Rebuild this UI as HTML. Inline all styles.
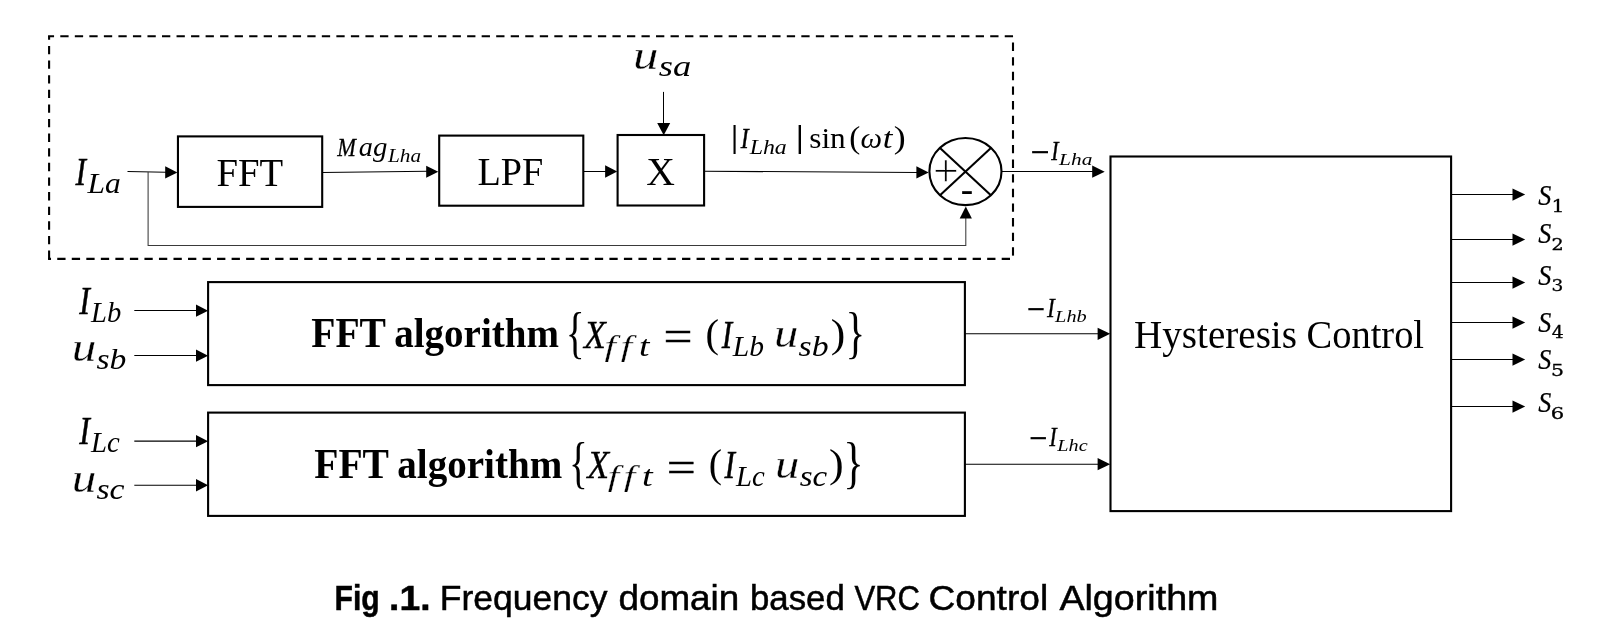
<!DOCTYPE html>
<html lang="en">
<head>
<meta charset="utf-8">
<title>Fig. 1 Frequency domain based VRC Control Algorithm</title>
<style>
html,body{margin:0;padding:0;background:#fff;}
body{width:1616px;height:638px;overflow:hidden;}
svg{display:block;will-change:transform;}
.box{fill:none;stroke:#000;stroke-width:2.1;}
.ln{fill:none;stroke:#000;stroke-width:1.05;}
.fb{fill:none;stroke:#3a3a3a;stroke-width:1.05;}
.ah{fill:#000;stroke:none;}
text{fill:#000;}
</style>
</head>
<body>
<svg width="1616" height="638" viewBox="0 0 1616 638">
<rect x="0" y="0" width="1616" height="638" fill="#fff"/>
<!-- dashed group frame -->
<g fill="none" stroke="#000" stroke-width="2.1">
<line x1="48.05" y1="36.2" x2="1014.05" y2="36.2" stroke-dasharray="8.3 6.23" stroke-dashoffset="2.29"/>
<line x1="1013" y1="37.25" x2="1013" y2="258.9" stroke-dasharray="8.35 6.27" stroke-dashoffset="9.27"/>
<line x1="48.05" y1="258.9" x2="1013" y2="258.9" stroke-dasharray="8.3 6.23" stroke-dashoffset="5.33"/>
<line x1="49.1" y1="36.2" x2="49.1" y2="259.95" stroke-dasharray="8.35 6.27" stroke-dashoffset="4.92"/>
</g>

<!-- top row boxes -->
<rect class="box" x="177.95" y="136.4" width="144.25" height="70.5"/>
<rect class="box" x="439.2" y="135.6" width="144.1" height="70.1"/>
<rect class="box" x="617.6" y="135" width="86.5" height="70.5"/>
<ellipse class="box" cx="965.45" cy="171.55" rx="36.05" ry="33.55"/>
<line class="box" x1="940" y1="147.9" x2="990.9" y2="195.2"/>
<line class="box" x1="990.9" y1="147.9" x2="940" y2="195.2"/>

<!-- big boxes -->
<rect class="box" x="208.1" y="282.1" width="756.8" height="103"/>
<rect class="box" x="208.1" y="412.6" width="756.8" height="103.3"/>
<rect class="box" x="1110.5" y="156.5" width="340.6" height="354.6"/>

<!-- arrows top row -->
<line class="ln" x1="127.5" y1="171.4" x2="166" y2="172.3"/>
<polygon class="ah" points="165.2,166.3 177.4,172.4 165.2,178.4"/>
<polyline class="fb" points="148.1,172 148.1,245.45 965.8,245.45 965.8,218"/>
<polygon class="ah" points="959.7,218.6 965.8,206.4 971.9,218.6"/>
<line class="ln" x1="322" y1="172.4" x2="428" y2="171.3"/>
<polygon class="ah" points="426.2,165.7 438.3,171.75 426.2,177.8"/>
<line class="ln" x1="583.3" y1="171.5" x2="607" y2="171.5"/>
<polygon class="ah" points="605.1,165.3 617.2,171.55 605.1,177.8"/>
<line class="ln" x1="663.5" y1="91.9" x2="663.5" y2="124"/>
<polygon class="ah" points="657.2,123.1 663.7,135.2 670.2,123.1"/>
<line class="ln" x1="704.1" y1="171.3" x2="918" y2="172.4"/>
<polygon class="ah" points="916.4,166.2 928.7,172.4 916.4,178.6"/>
<line class="ln" x1="1001.5" y1="171.4" x2="1093" y2="171.4"/>
<polygon class="ah" points="1092.2,165.6 1104.7,171.7 1092.2,177.8"/>

<!-- arrows rows b, c -->
<line class="ln" x1="134.3" y1="310.5" x2="197" y2="310.5"/>
<polygon class="ah" points="196,304.50 208.1,310.65 196,316.80"/>
<line class="ln" x1="134.3" y1="355.5" x2="197" y2="355.5"/>
<polygon class="ah" points="196,349.50 208.1,355.65 196,361.80"/>
<line class="ln" x1="134.3" y1="441.1" x2="197" y2="441.1"/>
<polygon class="ah" points="196,435.05 208.1,441.20 196,447.35"/>
<line class="ln" x1="134.3" y1="485.15" x2="197" y2="485.15"/>
<polygon class="ah" points="196,479.10 208.1,485.25 196,491.40"/>
<line class="ln" x1="965" y1="333.8" x2="1098.5" y2="333.8"/>
<polygon class="ah" points="1097.6,327.7 1110.2,333.8 1097.6,339.9"/>
<line class="ln" x1="965" y1="464.2" x2="1098.5" y2="464.2"/>
<polygon class="ah" points="1097.6,458.1 1110.2,464.2 1097.6,470.3"/>

<!-- output arrows -->
<line class="ln" x1="1451" y1="194.5" x2="1513.5" y2="194.5"/>
<polygon class="ah" points="1512.5,188.40 1525.2,194.55 1512.5,200.70"/>
<line class="ln" x1="1451" y1="239.5" x2="1513.5" y2="239.5"/>
<polygon class="ah" points="1512.5,233.40 1525.2,239.55 1512.5,245.70"/>
<line class="ln" x1="1451" y1="282.5" x2="1513.5" y2="282.5"/>
<polygon class="ah" points="1512.5,276.40 1525.2,282.55 1512.5,288.70"/>
<line class="ln" x1="1451" y1="322.5" x2="1513.5" y2="322.5"/>
<polygon class="ah" points="1512.5,316.40 1525.2,322.55 1512.5,328.70"/>
<line class="ln" x1="1451" y1="359.5" x2="1513.5" y2="359.5"/>
<polygon class="ah" points="1512.5,353.40 1525.2,359.55 1512.5,365.70"/>
<line class="ln" x1="1451" y1="406.5" x2="1513.5" y2="406.5"/>
<polygon class="ah" points="1512.5,400.40 1525.2,406.55 1512.5,412.70"/>

<!-- text labels -->
<text xml:space="preserve"><tspan x="216.5" y="185.6" font-family='"Liberation Serif",serif' font-size="41" textLength="66.66" lengthAdjust="spacingAndGlyphs">FFT</tspan></text>
<text xml:space="preserve"><tspan x="477.4" y="184.7" font-family='"Liberation Serif",serif' font-size="41" textLength="65.85" lengthAdjust="spacingAndGlyphs">LPF</tspan></text>
<text xml:space="preserve"><tspan x="646.18" y="184.7" font-family='"Liberation Serif",serif' font-size="41" textLength="28.66" lengthAdjust="spacingAndGlyphs">X</tspan></text>
<text xml:space="preserve"><tspan x="1134.04" y="348.1" font-family='"Liberation Serif",serif' font-size="41" textLength="162.93" lengthAdjust="spacingAndGlyphs">Hysteresis</tspan> <tspan x="1306.5" y="348.1" font-family='"Liberation Serif",serif' font-size="41" textLength="117.57" lengthAdjust="spacingAndGlyphs">Control</tspan></text>
<text xml:space="preserve"><tspan x="311.28" y="347.25" font-family='"Liberation Serif",serif' font-size="41.2" font-weight="bold" textLength="74.74" lengthAdjust="spacingAndGlyphs">FFT</tspan> <tspan x="394.28" y="347.25" font-family='"Liberation Serif",serif' font-size="41.2" font-weight="bold" textLength="164.71" lengthAdjust="spacingAndGlyphs">algorithm</tspan> <tspan x="565.82" y="351.9" font-family='"Liberation Serif",serif' font-size="57.88" textLength="18.89" lengthAdjust="spacingAndGlyphs">{</tspan><tspan x="583.97" y="347.6" font-family='"Liberation Serif",serif' font-size="40" font-style="italic" textLength="21.81" lengthAdjust="spacingAndGlyphs" stroke="#000" stroke-width="0.32">X</tspan><tspan x="604.6" y="355.7" font-family='"Liberation Serif",serif' font-size="28.5" font-style="italic" textLength="11.42" lengthAdjust="spacingAndGlyphs" stroke="#fff" stroke-width="0.25">f</tspan><tspan x="620.7" y="355.7" font-family='"Liberation Serif",serif' font-size="28.5" font-style="italic" textLength="11.42" lengthAdjust="spacingAndGlyphs" stroke="#fff" stroke-width="0.25">f</tspan><tspan x="639.02" y="355.5" font-family='"Liberation Serif",serif' font-size="28.5" font-style="italic" textLength="10.47" lengthAdjust="spacingAndGlyphs">t</tspan> <tspan x="663.59" y="350.3" font-family='"Liberation Serif",serif' font-size="43" textLength="29" lengthAdjust="spacingAndGlyphs" stroke="#000" stroke-width="0.4">=</tspan> <tspan x="705.43" y="346.6" font-family='"Liberation Serif",serif' font-size="40.6" textLength="13.5" lengthAdjust="spacingAndGlyphs">(</tspan><tspan x="721.69" y="347.6" font-family='"Liberation Serif",serif' font-size="40" font-style="italic" textLength="10.4" lengthAdjust="spacingAndGlyphs" stroke="#000" stroke-width="0.50">I</tspan><tspan x="732.76" y="355.5" font-family='"Liberation Serif",serif' font-size="28.5" font-style="italic" textLength="31.2" lengthAdjust="spacingAndGlyphs">Lb</tspan> <tspan x="774.01" y="347.4" font-family='"Liberation Serif",serif' font-size="41.3" font-style="italic" textLength="24.41" lengthAdjust="spacingAndGlyphs" stroke="#fff" stroke-width="0.30">u</tspan><tspan x="798.6" y="355.6" font-family='"Liberation Serif",serif' font-size="30" font-style="italic" textLength="30.03" lengthAdjust="spacingAndGlyphs">sb</tspan><tspan x="830.84" y="346.6" font-family='"Liberation Serif",serif' font-size="40.6" textLength="14.54" lengthAdjust="spacingAndGlyphs">)</tspan><tspan x="845.5" y="351.9" font-family='"Liberation Serif",serif' font-size="57.88" textLength="19.66" lengthAdjust="spacingAndGlyphs">}</tspan></text>
<text xml:space="preserve"><tspan x="314.28" y="477.75" font-family='"Liberation Serif",serif' font-size="41.2" font-weight="bold" textLength="74.74" lengthAdjust="spacingAndGlyphs">FFT</tspan> <tspan x="397.28" y="477.75" font-family='"Liberation Serif",serif' font-size="41.2" font-weight="bold" textLength="164.91" lengthAdjust="spacingAndGlyphs">algorithm</tspan> <tspan x="569.05" y="482.4" font-family='"Liberation Serif",serif' font-size="57.88" textLength="18.74" lengthAdjust="spacingAndGlyphs">{</tspan><tspan x="587.27" y="478.1" font-family='"Liberation Serif",serif' font-size="40" font-style="italic" textLength="21.81" lengthAdjust="spacingAndGlyphs" stroke="#000" stroke-width="0.32">X</tspan><tspan x="607.7" y="486.2" font-family='"Liberation Serif",serif' font-size="28.5" font-style="italic" textLength="11.42" lengthAdjust="spacingAndGlyphs" stroke="#fff" stroke-width="0.25">f</tspan><tspan x="623.8" y="486.2" font-family='"Liberation Serif",serif' font-size="28.5" font-style="italic" textLength="11.63" lengthAdjust="spacingAndGlyphs" stroke="#fff" stroke-width="0.25">f</tspan><tspan x="642.1" y="486" font-family='"Liberation Serif",serif' font-size="28.5" font-style="italic" textLength="10.67" lengthAdjust="spacingAndGlyphs">t</tspan> <tspan x="666.79" y="480.8" font-family='"Liberation Serif",serif' font-size="43" textLength="29" lengthAdjust="spacingAndGlyphs" stroke="#000" stroke-width="0.4">=</tspan> <tspan x="708.76" y="477.1" font-family='"Liberation Serif",serif' font-size="40.6" textLength="13.26" lengthAdjust="spacingAndGlyphs">(</tspan><tspan x="724.39" y="478.1" font-family='"Liberation Serif",serif' font-size="40" font-style="italic" textLength="10.49" lengthAdjust="spacingAndGlyphs" stroke="#000" stroke-width="0.50">I</tspan><tspan x="736.05" y="486" font-family='"Liberation Serif",serif' font-size="28.5" font-style="italic" textLength="28.73" lengthAdjust="spacingAndGlyphs">Lc</tspan> <tspan x="775.11" y="477.9" font-family='"Liberation Serif",serif' font-size="41.3" font-style="italic" textLength="24.41" lengthAdjust="spacingAndGlyphs" stroke="#fff" stroke-width="0.30">u</tspan><tspan x="799.7" y="486.1" font-family='"Liberation Serif",serif' font-size="30" font-style="italic" textLength="27.51" lengthAdjust="spacingAndGlyphs">sc</tspan><tspan x="829.12" y="477.1" font-family='"Liberation Serif",serif' font-size="40.6" textLength="14.67" lengthAdjust="spacingAndGlyphs">)</tspan><tspan x="843.17" y="482.4" font-family='"Liberation Serif",serif' font-size="57.88" textLength="20.43" lengthAdjust="spacingAndGlyphs">}</tspan></text>
<text xml:space="preserve"><tspan x="75.49" y="184.9" font-family='"Liberation Serif",serif' font-size="40" font-style="italic" textLength="10.49" lengthAdjust="spacingAndGlyphs" stroke="#000" stroke-width="0.50">I</tspan><tspan x="87.49" y="192.7" font-family='"Liberation Serif",serif' font-size="28.5" font-style="italic" textLength="33.29" lengthAdjust="spacingAndGlyphs">La</tspan></text>
<text xml:space="preserve"><tspan x="337.25" y="156.2" font-family='"Liberation Serif",serif' font-size="26.2" font-style="italic" textLength="18.66" lengthAdjust="spacingAndGlyphs" stroke="#000" stroke-width="0.28">M</tspan><tspan x="358.66" y="156.2" font-family='"Liberation Serif",serif' font-size="28.3" font-style="italic" textLength="14.12" lengthAdjust="spacingAndGlyphs">a</tspan><tspan x="373" y="156.2" font-family='"Liberation Serif",serif' font-size="28.3" font-style="italic" textLength="14.45" lengthAdjust="spacingAndGlyphs">g</tspan><tspan x="388.03" y="161.7" font-family='"Liberation Serif",serif' font-size="18.2" font-style="italic" textLength="33.03" lengthAdjust="spacingAndGlyphs">Lha</tspan></text>
<text xml:space="preserve"><tspan x="632.91" y="68.9" font-family='"Liberation Serif",serif' font-size="41.3" font-style="italic" textLength="25.48" lengthAdjust="spacingAndGlyphs" stroke="#fff" stroke-width="0.30">u</tspan><tspan x="658.8" y="75.9" font-family='"Liberation Serif",serif' font-size="30" font-style="italic" textLength="32.44" lengthAdjust="spacingAndGlyphs">sa</tspan></text>
<text xml:space="preserve"><tspan x="730.3" y="147" font-family='"Liberation Serif",serif' font-size="31.8" textLength="8.65" lengthAdjust="spacingAndGlyphs">|</tspan><tspan x="740.77" y="148.1" font-family='"Liberation Serif",serif' font-size="29.5" font-style="italic" textLength="7.93" lengthAdjust="spacingAndGlyphs" stroke="#000" stroke-width="0.43">I</tspan><tspan x="749.67" y="154" font-family='"Liberation Serif",serif' font-size="20" font-style="italic" textLength="37.07" lengthAdjust="spacingAndGlyphs">Lha</tspan><tspan x="795" y="147" font-family='"Liberation Serif",serif' font-size="31.8" textLength="9.61" lengthAdjust="spacingAndGlyphs">|</tspan> <tspan x="809.22" y="148.2" font-family='"Liberation Serif",serif' font-size="30" textLength="36.48" lengthAdjust="spacingAndGlyphs">sin</tspan><tspan x="849.27" y="147.6" font-family='"Liberation Serif",serif' font-size="31" textLength="11.01" lengthAdjust="spacingAndGlyphs">(</tspan><tspan x="860.44" y="148.2" font-family='"Liberation Serif",serif' font-size="29" font-style="italic" textLength="21.6" lengthAdjust="spacingAndGlyphs">ω</tspan><tspan x="882.71" y="148.2" font-family='"Liberation Serif",serif' font-size="29" font-style="italic" textLength="9.68" lengthAdjust="spacingAndGlyphs">t</tspan><tspan x="893.88" y="147.6" font-family='"Liberation Serif",serif' font-size="31" textLength="11.91" lengthAdjust="spacingAndGlyphs">)</tspan></text>
<text xml:space="preserve"><tspan x="933.06" y="186.1" font-family='"Liberation Serif",serif' font-size="46" textLength="25.75" lengthAdjust="spacingAndGlyphs" stroke="#fff" stroke-width="0.6">+</tspan></text>
<text xml:space="preserve"><tspan x="960.84" y="201.6" font-family='"Liberation Serif",serif' font-size="38.9" textLength="12.41" lengthAdjust="spacingAndGlyphs">-</tspan></text>
<text xml:space="preserve"><tspan x="1030.5" y="166.8" font-family='"Liberation Serif",serif' font-size="44" textLength="19.25" lengthAdjust="spacingAndGlyphs">−</tspan><tspan x="1051.34" y="159.9" font-family='"Liberation Serif",serif' font-size="27.2" font-style="italic" textLength="7.33" lengthAdjust="spacingAndGlyphs" stroke="#000" stroke-width="0.39">I</tspan><tspan x="1059.13" y="164.6" font-family='"Liberation Serif",serif' font-size="17.6" font-style="italic" textLength="33.23" lengthAdjust="spacingAndGlyphs">Lha</tspan></text>
<text xml:space="preserve"><tspan x="1026.75" y="323.6" font-family='"Liberation Serif",serif' font-size="44" textLength="18.65" lengthAdjust="spacingAndGlyphs">−</tspan><tspan x="1046.97" y="316.9" font-family='"Liberation Serif",serif' font-size="27.2" font-style="italic" textLength="7.84" lengthAdjust="spacingAndGlyphs" stroke="#000" stroke-width="0.27">I</tspan><tspan x="1055.12" y="322" font-family='"Liberation Serif",serif' font-size="17.6" font-style="italic" textLength="31.6" lengthAdjust="spacingAndGlyphs">Lhb</tspan></text>
<text xml:space="preserve"><tspan x="1028.95" y="453.4" font-family='"Liberation Serif",serif' font-size="44" textLength="18.65" lengthAdjust="spacingAndGlyphs">−</tspan><tspan x="1049.35" y="446.2" font-family='"Liberation Serif",serif' font-size="27.2" font-style="italic" textLength="7.5" lengthAdjust="spacingAndGlyphs" stroke="#000" stroke-width="0.35">I</tspan><tspan x="1057.32" y="451.3" font-family='"Liberation Serif",serif' font-size="17.6" font-style="italic" textLength="30.31" lengthAdjust="spacingAndGlyphs">Lhc</tspan></text>
<text xml:space="preserve"><tspan x="79.3" y="313.7" font-family='"Liberation Serif",serif' font-size="40" font-style="italic" textLength="10.66" lengthAdjust="spacingAndGlyphs" stroke="#000" stroke-width="0.50">I</tspan><tspan x="91.05" y="321.5" font-family='"Liberation Serif",serif' font-size="28.5" font-style="italic" textLength="30.2" lengthAdjust="spacingAndGlyphs">Lb</tspan></text>
<text xml:space="preserve"><tspan x="71.79" y="360.9" font-family='"Liberation Serif",serif' font-size="41.3" font-style="italic" textLength="24.65" lengthAdjust="spacingAndGlyphs" stroke="#fff" stroke-width="0.30">u</tspan><tspan x="96.4" y="369" font-family='"Liberation Serif",serif' font-size="30" font-style="italic" textLength="29.93" lengthAdjust="spacingAndGlyphs">sb</tspan></text>
<text xml:space="preserve"><tspan x="79.3" y="444" font-family='"Liberation Serif",serif' font-size="40" font-style="italic" textLength="10.66" lengthAdjust="spacingAndGlyphs" stroke="#000" stroke-width="0.50">I</tspan><tspan x="91.05" y="451.8" font-family='"Liberation Serif",serif' font-size="28.5" font-style="italic" textLength="28.73" lengthAdjust="spacingAndGlyphs">Lc</tspan></text>
<text xml:space="preserve"><tspan x="71.79" y="491.5" font-family='"Liberation Serif",serif' font-size="41.3" font-style="italic" textLength="24.65" lengthAdjust="spacingAndGlyphs" stroke="#fff" stroke-width="0.30">u</tspan><tspan x="96.4" y="498.5" font-family='"Liberation Serif",serif' font-size="30" font-style="italic" textLength="28.11" lengthAdjust="spacingAndGlyphs">sc</tspan></text>
<text xml:space="preserve"><tspan x="1538.3" y="205.3" font-family='"Liberation Serif",serif' font-size="29" font-style="italic" textLength="13.01" lengthAdjust="spacingAndGlyphs" stroke="#000" stroke-width="0.22">S</tspan><tspan x="1551.51" y="211.8" font-family='"DejaVu Serif","Liberation Serif",serif' font-size="15.9" textLength="13.03" lengthAdjust="spacingAndGlyphs" stroke="#000" stroke-width="0.3">1</tspan></text>
<text xml:space="preserve"><tspan x="1538.3" y="243" font-family='"Liberation Serif",serif' font-size="29" font-style="italic" textLength="13.01" lengthAdjust="spacingAndGlyphs" stroke="#000" stroke-width="0.22">S</tspan><tspan x="1551.45" y="249.5" font-family='"DejaVu Serif","Liberation Serif",serif' font-size="15.9" textLength="12.22" lengthAdjust="spacingAndGlyphs" stroke="#000" stroke-width="0.3">2</tspan></text>
<text xml:space="preserve"><tspan x="1538.3" y="284.8" font-family='"Liberation Serif",serif' font-size="29" font-style="italic" textLength="13.01" lengthAdjust="spacingAndGlyphs" stroke="#000" stroke-width="0.22">S</tspan><tspan x="1551.49" y="291.3" font-family='"DejaVu Serif","Liberation Serif",serif' font-size="15.9" textLength="11.83" lengthAdjust="spacingAndGlyphs" stroke="#000" stroke-width="0.3">3</tspan></text>
<text xml:space="preserve"><tspan x="1538.3" y="331.8" font-family='"Liberation Serif",serif' font-size="29" font-style="italic" textLength="13.01" lengthAdjust="spacingAndGlyphs" stroke="#000" stroke-width="0.22">S</tspan><tspan x="1551.76" y="338.3" font-family='"DejaVu Serif","Liberation Serif",serif' font-size="15.9" textLength="12" lengthAdjust="spacingAndGlyphs" stroke="#000" stroke-width="0.3">4</tspan></text>
<text xml:space="preserve"><tspan x="1538.3" y="369" font-family='"Liberation Serif",serif' font-size="29" font-style="italic" textLength="13.01" lengthAdjust="spacingAndGlyphs" stroke="#000" stroke-width="0.22">S</tspan><tspan x="1551.05" y="375.5" font-family='"DejaVu Serif","Liberation Serif",serif' font-size="15.9" textLength="13" lengthAdjust="spacingAndGlyphs" stroke="#000" stroke-width="0.3">5</tspan></text>
<text xml:space="preserve"><tspan x="1538.3" y="412.4" font-family='"Liberation Serif",serif' font-size="29" font-style="italic" textLength="13.01" lengthAdjust="spacingAndGlyphs" stroke="#000" stroke-width="0.22">S</tspan><tspan x="1550.73" y="418.9" font-family='"DejaVu Serif","Liberation Serif",serif' font-size="15.9" textLength="13.45" lengthAdjust="spacingAndGlyphs" stroke="#000" stroke-width="0.3">6</tspan></text>
<text xml:space="preserve"><tspan x="334.52" y="609.6" font-family='"Liberation Sans",sans-serif' font-size="35" font-weight="bold" textLength="45.21" lengthAdjust="spacingAndGlyphs" stroke="#000" stroke-width="0.5">Fig</tspan> <tspan x="389.07" y="609.6" font-family='"Liberation Sans",sans-serif' font-size="35" font-weight="bold" textLength="41.43" lengthAdjust="spacingAndGlyphs" stroke="#000" stroke-width="0.5">.1.</tspan> <tspan x="439.83" y="609.6" font-family='"Liberation Sans",sans-serif' font-size="35" textLength="167.57" lengthAdjust="spacingAndGlyphs" stroke="#000" stroke-width="0.5">Frequency</tspan> <tspan x="618.45" y="609.6" font-family='"Liberation Sans",sans-serif' font-size="35" textLength="120.82" lengthAdjust="spacingAndGlyphs" stroke="#000" stroke-width="0.5">domain</tspan> <tspan x="750.02" y="609.6" font-family='"Liberation Sans",sans-serif' font-size="35" textLength="94.83" lengthAdjust="spacingAndGlyphs" stroke="#000" stroke-width="0.5">based</tspan> <tspan x="854.4" y="609.6" font-family='"Liberation Sans",sans-serif' font-size="35" textLength="65.58" lengthAdjust="spacingAndGlyphs" stroke="#000" stroke-width="0.5">VRC</tspan> <tspan x="928.46" y="609.6" font-family='"Liberation Sans",sans-serif' font-size="35" textLength="119.69" lengthAdjust="spacingAndGlyphs" stroke="#000" stroke-width="0.5">Control</tspan> <tspan x="1059.4" y="609.6" font-family='"Liberation Sans",sans-serif' font-size="35" textLength="159.05" lengthAdjust="spacingAndGlyphs" stroke="#000" stroke-width="0.5">Algorithm</tspan></text>
</svg>
</body>
</html>
